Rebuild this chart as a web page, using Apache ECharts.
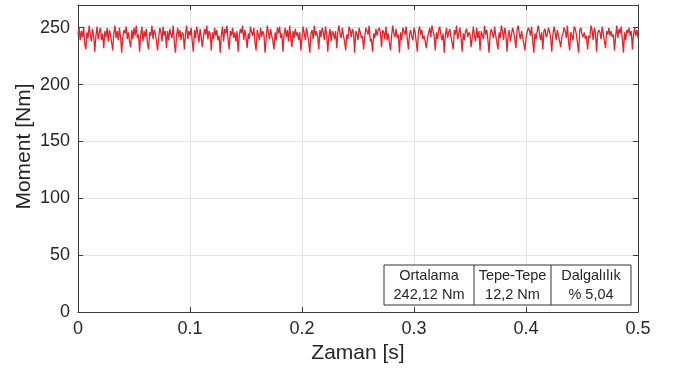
<!DOCTYPE html>
<html>
<head>
<meta charset="utf-8">
<script src="https://cdn.jsdelivr.net/npm/echarts@6/dist/echarts.min.js"></script>
<style>
html,body{margin:0;padding:0;background:#fff;}
#chart{width:675px;height:369px;}
</style>
</head>
<body>
<div id="chart"></div>
<script>
// Time axis ticks
const xTicks = [0, 0.1, 0.2, 0.3, 0.4, 0.5];
const yTicks = [0, 50, 100, 150, 200, 250];
const sampleStep = 0.001; // s between samples
// Torque samples [Nm] (1 ms apart)
const torque = [
244,250,239,247,242,251,236,231,
246,241,252,244,238,249,243,229,
243,251,240,246,250,239,245,232,
247,242,250,238,248,244,237,230,
245,252,241,247,239,250,242,228,
242,248,245,251,240,246,238,233,
248,240,250,243,252,241,244,229,
244,251,238,247,242,249,236,231,
246,243,252,240,248,245,239,230,
241,250,246,238,251,243,247,232,
247,239,249,244,241,252,237,228,
243,250,242,248,239,246,244,231,
245,252,240,247,243,250,238,229,
248,241,251,245,237,249,242,233,
242,249,244,252,240,247,245,230,
246,240,250,243,248,239,243,228,
244,251,238,249,245,252,240,231,
247,243,250,241,246,238,247,229,
243,249,245,252,239,248,242,232,
245,240,251,246,243,250,237,230,
248,244,239,250,242,247,244,228,
241,252,246,240,249,243,238,231,
246,239,250,245,251,241,245,229,
244,250,242,248,238,252,240,233,
247,241,249,243,246,239,246,230,
242,251,245,239,250,244,237,228,
245,248,240,252,243,247,242,231,
248,242,250,246,239,251,244,229,
243,249,238,247,245,240,247,232,
246,252,244,241,250,243,238,230,
244,240,251,248,242,249,245,228,
247,245,239,250,246,241,243,231,
242,250,247,244,252,238,240,229,
245,241,249,243,248,250,246,233,
248,246,240,251,239,245,237,230,
243,252,245,242,249,241,244,228,
246,239,250,247,244,251,240,231,
244,248,242,239,250,246,247,229,
247,251,244,248,240,243,238,232,
241,245,250,242,252,247,243,230,
246,240,248,251,244,239,245,228,
243,250,241,246,249,242,237,231,
248,244,252,240,245,250,241,229,
245,239,247,249,242,246,244,233,
242,251,243,238,250,241,247,230,
247,246,240,252,244,248,239,228,
244,249,245,241,251,243,242,231,
246,241,252,247,239,250,245,229,
243,248,238,244,250,246,240,232,
248,252,245,240,247,242,243,230,
241,246,250,248,243,251,238,228,
245,240,247,252,245,239,246,231,
247,249,242,244,250,247,241,229,
244,251,246,239,248,243,244,233,
242,245,250,247,241,252,237,230,
246,243,239,251,249,244,245,228,
248,250,244,242,246,240,243,231,
243,241,252,248,239,250,246,229,
245,248,246,240,251,245,238,232,
247,244,250,243,247,242,244,230,
242,252,241,249,245,251,240,228,
246,239,248,245,250,243,247,231,
244,250,243,248,241
];
// Summary table
const tableHeaders = ['Ortalama', 'Tepe-Tepe', 'Dalgalılık'];
const tableValues = ['242,12 Nm', '12,2 Nm', '% 5,04'];

const seriesData = torque.map((v, i) => [+(i * sampleStep).toFixed(3), v]);

const axisColor = '#3a3a3a';
const textColor = '#262626';
const gridColor = '#e3e3e3';
const font = 'Liberation Sans, Arial, sans-serif';

const chart = echarts.init(document.getElementById('chart'), null, {renderer: 'canvas'});

const xLabelFmt = v => {
  for (const t of xTicks) if (Math.abs(v - t) < 1e-9) return t === 0 ? '0' : t.toFixed(1);
  return '';
};
const yLabelFmt = v => (yTicks.indexOf(Math.round(v)) >= 0 && Math.abs(v - Math.round(v)) < 1e-9) ? String(Math.round(v)) : '';

// table geometry
const tx = [384, 474, 551, 631];
const ty0 = 265, ty1 = 305;
const tableGraphics = [
  {type: 'rect', shape: {x: tx[0], y: ty0, width: tx[3] - tx[0], height: ty1 - ty0},
   style: {fill: '#fff', stroke: '#333', lineWidth: 1}, z: 100}
];
[tx[1], tx[2]].forEach(x => tableGraphics.push({
  type: 'line', shape: {x1: x, y1: ty0, x2: x, y2: ty1},
  style: {stroke: '#333', lineWidth: 1}, z: 101
}));
tableHeaders.forEach((h, i) => {
  const cx = (tx[i] + tx[i + 1]) / 2;
  tableGraphics.push({type: 'text', x: cx, y: 276, z: 102,
    style: {text: h, fill: textColor, font: '14.5px ' + font, textAlign: 'center', textVerticalAlign: 'middle'}});
  tableGraphics.push({type: 'text', x: cx, y: 295, z: 102,
    style: {text: tableValues[i], fill: textColor, font: '14.5px ' + font, textAlign: 'center', textVerticalAlign: 'middle'}});
});

const option = {
  animation: false,
  backgroundColor: '#fff',
  grid: {left: 78, right: 37, top: 5, bottom: 56, containLabel: false},
  xAxis: [{
    type: 'value', min: 0, max: 0.5, interval: 0.1, position: 'bottom',
    name: 'Zaman [s]', nameLocation: 'middle', nameGap: 30,
    nameTextStyle: {fontSize: 21, color: textColor, fontFamily: font},
    axisLine: {show: true, lineStyle: {color: axisColor, width: 1}},
    axisTick: {show: true, inside: true, length: 5, lineStyle: {color: axisColor}},
    axisLabel: {formatter: xLabelFmt, fontSize: 18, color: textColor, fontFamily: font, margin: 8, showMaxLabel: true},
    splitLine: {show: true, lineStyle: {color: gridColor, width: 1}}
  }, {
    type: 'value', min: 0, max: 0.5, interval: 0.1, position: 'top',
    axisLine: {show: true, onZero: false, lineStyle: {color: axisColor, width: 1}},
    axisTick: {show: true, inside: true, length: 5, lineStyle: {color: axisColor}},
    axisLabel: {show: false}, splitLine: {show: false}
  }],
  yAxis: [{
    type: 'value', min: 0, max: 270, interval: 50, position: 'left',
    name: 'Moment [Nm]', nameLocation: 'middle', nameGap: 43, nameMoveOverlap: false,
    nameTextStyle: {fontSize: 21, color: textColor, fontFamily: font, padding: [0, 0, 0, 24]},
    axisLine: {show: true, lineStyle: {color: axisColor, width: 1}},
    axisTick: {show: true, inside: true, length: 5, lineStyle: {color: axisColor}},
    axisLabel: {formatter: yLabelFmt, fontSize: 18, color: textColor, fontFamily: font, margin: 8, showMaxLabel: false},
    splitLine: {show: true, lineStyle: {color: gridColor, width: 1}}
  }, {
    type: 'value', min: 0, max: 270, interval: 50, position: 'right',
    axisLine: {show: true, onZero: false, lineStyle: {color: axisColor, width: 1}},
    axisTick: {show: true, inside: true, length: 5, lineStyle: {color: axisColor}},
    axisLabel: {show: false}, splitLine: {show: false}
  }],
  series: [{
    type: 'line', xAxisIndex: 0, yAxisIndex: 0,
    data: seriesData, showSymbol: false, symbol: 'none',
    lineStyle: {color: '#e8222b', width: 1.3}, z: 3
  }],
  graphic: tableGraphics
};
chart.setOption(option);
</script>
</body>
</html>
